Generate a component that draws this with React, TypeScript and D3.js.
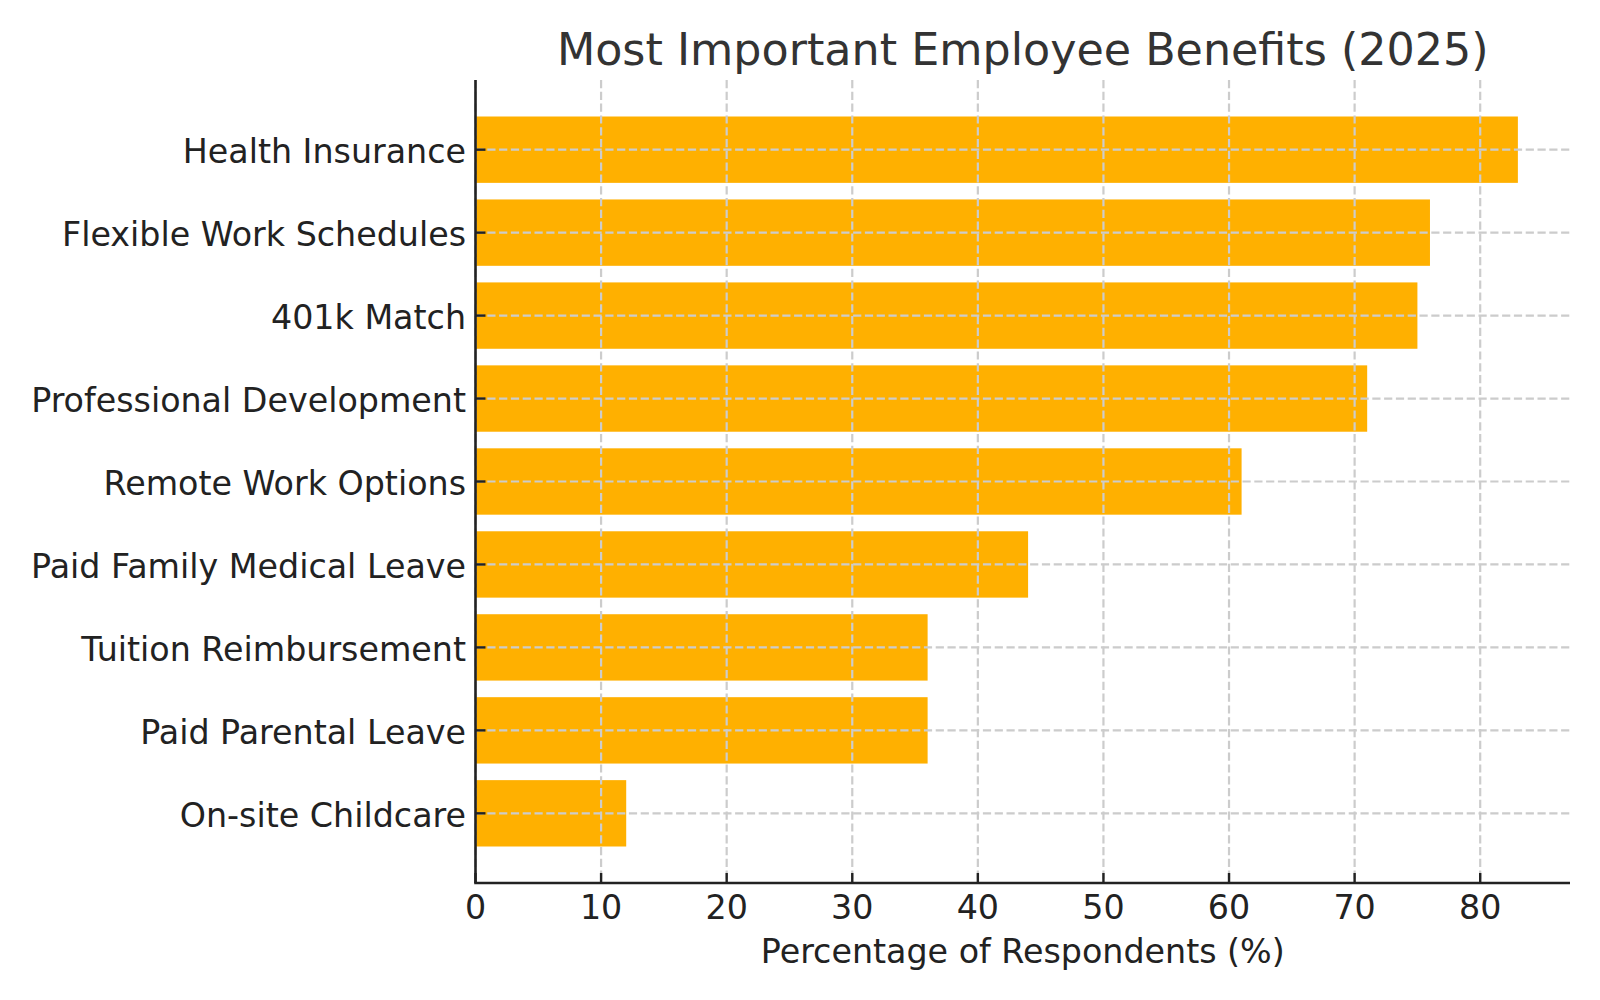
import { useEffect, useRef } from "react";
import * as d3 from "d3";

const categories = [
  "Health Insurance",
  "Flexible Work Schedules",
  "401k Match",
  "Professional Development",
  "Remote Work Options",
  "Paid Family Medical Leave",
  "Tuition Reimbursement",
  "Paid Parental Leave",
  "On-site Childcare",
];

const percentages = [83, 76, 75, 71, 61, 44, 36, 36, 12];

const xTicks = [0, 10, 20, 30, 40, 50, 60, 70, 80];

const TITLE = "Most Important Employee Benefits (2025)";
const X_LABEL = "Percentage of Respondents (%)";

const BAR_COLOR = "#ffb000";
const TEXT_COLOR = "#222222";
const GRID_COLOR = "#cccccc";
const FONT = "'DejaVu Sans', sans-serif";

export default function App() {
  const svgRef = useRef<SVGSVGElement>(null);

  useEffect(() => {
    if (!svgRef.current) return;
    document.body.style.margin = "0";

    const width = 1600;
    const height = 1000;
    const svg = d3.select(svgRef.current);
    svg.selectAll("*").remove();
    svg.attr("width", width).attr("height", height);

    const left = 475.5;
    const right = 1570;
    const top = 80;
    const bottom = 883;

    // matplotlib-like autoscale: 5% headroom past the longest bar
    const xMax = d3.max(percentages)! * 1.05;
    const x = d3.scaleLinear().domain([0, xMax]).range([left, right]);

    const y = d3
      .scaleBand<string>()
      .domain(categories)
      .range([top, bottom])
      .paddingInner(0.2)
      .paddingOuter(0.44);

    const g = svg.append("g");

    // bars
    g.append("g")
      .selectAll("rect")
      .data(categories)
      .join("rect")
      .attr("x", x(0))
      .attr("y", (d) => y(d)!)
      .attr("width", (_d, i) => x(percentages[i]) - x(0))
      .attr("height", y.bandwidth())
      .attr("fill", BAR_COLOR);

    // grid (drawn above the bars, as in the reference)
    const grid = g.append("g").attr("class", "grid");
    grid
      .selectAll("line.v")
      .data(xTicks)
      .join("line")
      .attr("class", "v")
      .attr("x1", (d) => x(d))
      .attr("x2", (d) => x(d))
      .attr("y1", top)
      .attr("y2", bottom)
      .attr("stroke", GRID_COLOR)
      .attr("stroke-width", 2.2)
      .attr("stroke-dasharray", "8.2,3.6");

    grid
      .selectAll("line.h")
      .data(categories)
      .join("line")
      .attr("class", "h")
      .attr("x1", left)
      .attr("x2", right)
      .attr("y1", (d) => y(d)! + y.bandwidth() / 2)
      .attr("y2", (d) => y(d)! + y.bandwidth() / 2)
      .attr("stroke", GRID_COLOR)
      .attr("stroke-width", 2.2)
      .attr("stroke-dasharray", "8.2,3.6");

    // spines (left + bottom only)
    g.append("line")
      .attr("x1", left)
      .attr("x2", left)
      .attr("y1", top)
      .attr("y2", bottom)
      .attr("stroke", TEXT_COLOR)
      .attr("stroke-width", 2.6);
    g.append("line")
      .attr("x1", left - 1.3)
      .attr("x2", right)
      .attr("y1", bottom)
      .attr("y2", bottom)
      .attr("stroke", TEXT_COLOR)
      .attr("stroke-width", 2.6);

    // ticks point inward
    g.append("g")
      .selectAll("line")
      .data(xTicks)
      .join("line")
      .attr("x1", (d) => x(d))
      .attr("x2", (d) => x(d))
      .attr("y1", bottom)
      .attr("y2", bottom - 10)
      .attr("stroke", TEXT_COLOR)
      .attr("stroke-width", 2.4);

    g.append("g")
      .selectAll("line")
      .data(categories)
      .join("line")
      .attr("x1", left)
      .attr("x2", left + 10)
      .attr("y1", (d) => y(d)! + y.bandwidth() / 2)
      .attr("y2", (d) => y(d)! + y.bandwidth() / 2)
      .attr("stroke", TEXT_COLOR)
      .attr("stroke-width", 2.4);

    // tick labels
    g.append("g")
      .selectAll("text")
      .data(xTicks)
      .join("text")
      .attr("x", (d) => x(d))
      .attr("y", 918.5)
      .attr("text-anchor", "middle")
      .attr("font-family", FONT)
      .attr("font-size", 33.3)
      .attr("fill", TEXT_COLOR)
      .text((d) => d);

    g.append("g")
      .selectAll("text")
      .data(categories)
      .join("text")
      .attr("x", 466)
      .attr("y", (d) => y(d)! + y.bandwidth() / 2 + 13.5)
      .attr("text-anchor", "end")
      .attr("font-family", FONT)
      .attr("font-size", 33.3)
      .attr("fill", TEXT_COLOR)
      .text((d) => d);

    // axis label + title
    svg
      .append("text")
      .attr("x", (left + right) / 2)
      .attr("y", 963.3)
      .attr("text-anchor", "middle")
      .attr("font-family", FONT)
      .attr("font-size", 33.3)
      .attr("fill", TEXT_COLOR)
      .text(X_LABEL);

    svg
      .append("text")
      .attr("x", (left + right) / 2)
      .attr("y", 65)
      .attr("text-anchor", "middle")
      .attr("font-family", FONT)
      .attr("font-size", 44.4)
      .attr("fill", "#333333")
      .text(TITLE);
  }, []);

  return <svg ref={svgRef} style={{ display: "block" }} />;
}
